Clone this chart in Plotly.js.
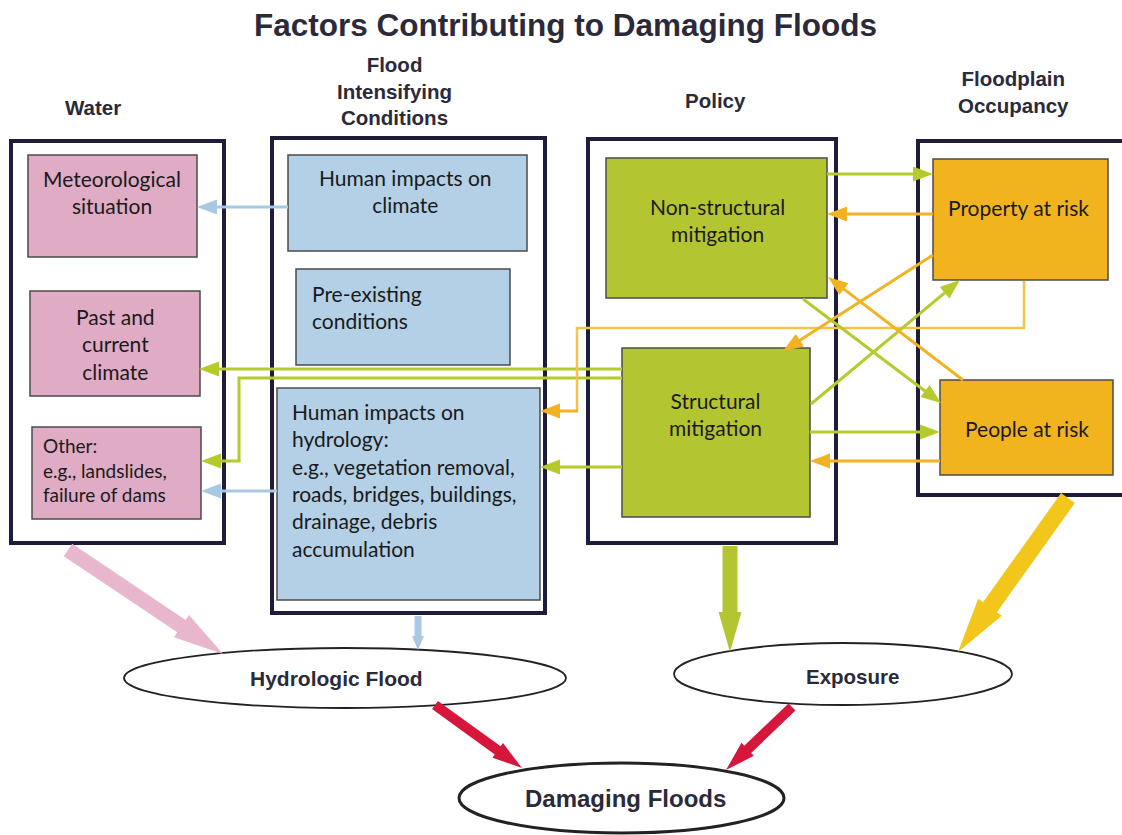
<!DOCTYPE html>
<html>
<head>
<meta charset="utf-8">
<script src="https://cdn.plot.ly/plotly-3.0.1.min.js"></script>
<style>html,body{margin:0;padding:0;background:#fff;}#chart{width:1122px;height:835px;}</style>
</head>
<body>
<div id="chart"></div>
<script>
// ---- Content (text) ----
const chartTitle = "Factors Contributing to Damaging Floods";
const groupHeaders = ["Water", "Flood<br>Intensifying<br>Conditions", "Policy", "Floodplain<br>Occupancy"];
const waterFactors = ["Meteorological<br>situation", "Past and<br>current<br>climate", "Other:<br>e.g., landslides,<br>failure of dams"];
const intensifyingFactors = ["Human impacts on<br>climate", "Pre-existing<br>conditions", "Human impacts on<br>hydrology:<br>e.g., vegetation removal,<br>roads, bridges, buildings,<br>drainage, debris<br>accumulation"];
const policyFactors = ["Non-structural<br>mitigation", "Structural<br>mitigation"];
const occupancyFactors = ["Property at risk", "People at risk"];
const outcomeLabels = ["Hydrologic Flood", "Exposure", "Damaging Floods"];

// ---- Layout geometry (pixel space) ----
const headerPos = [[93,107],[394,91],[715,100],[1013,92]];
const groupFrames = [[11,141,224,543],[272,138,545,613],[588,139,836,543],[918,141,1128,495]];
const waterBoxes = [[28,155,197,257],[30,291,200,396],[32,427,201,519]];
const waterText = [[112,192,'c',21],[115,344,'c',21],[41,470,'l',19]];
const intBoxes = [[288,155,527,251],[296,269,510,365],[277,388,540,600]];
const intText = [[405,191,'c',21],[310,307,'l',21],[290,480,'l',21]];
const polBoxes = [[606,158,827,298],[622,348,810,517]];
const polText = [[717,220,'c',21],[715,414,'c',21]];
const occBoxes = [[933,159,1108,280],[940,380,1113,475]];
const occText = [[1018,207,'c',21],[1027,428,'c',21]];
const ellipses = [[124,648,566,708],[674,643,1012,705],[459,763,784,833]];

const C = {
  frame:'#1d1c3b', pink:'#e0abc5', blue:'#b3d0e6', green:'#b4c532', orange:'#f2b41e',
  blueArrow:'#a8c8e3', greenArrow:'#b7ca2c', orangeArrow:'#f1b224', paleOrange:'#f3c447',
  pinkBig:'#e8b6cd', goldBig:'#f2c61b', red:'#d7163b', text:'#1a1a1a', head:'#2a2a3a'
};

const shapes = [];
const annotations = [];

function rect(b, fill, lc, lw){
  shapes.push({type:'rect', xref:'x', yref:'y', x0:b[0], y0:b[1], x1:b[2], y1:b[3],
    fillcolor:fill, line:{color:lc, width:lw}, layer:'below'});
}
function label(txt, x, y, opts){
  annotations.push(Object.assign({text:txt, x:x, y:y, xref:'x', yref:'y', showarrow:false,
    xanchor:'center', yanchor:'middle', align:'center',
    font:{family:'Lato, "Open Sans", sans-serif', size:21, color:C.text}}, opts||{}));
}
// arrow drawn as one filled polygon: shaft + triangular head
function arrow(tail, tip, color, shaftW, headL, headW){
  const dx = tip[0]-tail[0], dy = tip[1]-tail[1];
  const len = Math.hypot(dx, dy);
  const ux = dx/len, uy = dy/len, nx = -uy, ny = ux;
  const bx = tip[0]-ux*headL, by = tip[1]-uy*headL;
  const s = shaftW/2, h = headW/2;
  const pts = [
    [tail[0]+nx*s, tail[1]+ny*s], [bx+nx*s, by+ny*s], [bx+nx*h, by+ny*h], tip,
    [bx-nx*h, by-ny*h], [bx-nx*s, by-ny*s], [tail[0]-nx*s, tail[1]-ny*s]
  ];
  const d = 'M' + pts.map(p => p[0].toFixed(2)+','+p[1].toFixed(2)).join(' L') + ' Z';
  shapes.push({type:'path', xref:'x', yref:'y', path:d, fillcolor:color, line:{width:0}, layer:'above'});
}
function thin(tail, tip, color){ arrow(tail, tip, color, 3, 20, 15); }
function polyline(pts, color, width){
  const d = 'M' + pts.map(p => p[0] + ',' + p[1]).join(' L');
  shapes.push({type:'path', xref:'x', yref:'y', path:d, line:{color:color, width:width}, layer:'above'});
}

// frames
groupFrames.forEach(b => rect(b, 'rgba(255,255,255,0)', C.frame, 4));
// inner boxes
waterBoxes.forEach(b => rect(b, C.pink, '#4b4b4b', 1.5));
intBoxes.forEach(b => rect(b, C.blue, '#4b4b4b', 1.5));
polBoxes.forEach(b => rect(b, C.green, '#4b4b4b', 1.5));
occBoxes.forEach(b => rect(b, C.orange, '#4b4b4b', 1.5));

// ellipses
ellipses.forEach((e,i) => shapes.push({type:'circle', xref:'x', yref:'y', x0:e[0], y0:e[1], x1:e[2], y1:e[3],
  fillcolor:'#ffffff', line:{color:'#222', width: i===2 ? 3 : 1.8}, layer:'below'}));

// texts inside boxes
function boxTexts(list, pos){
  list.forEach((t,i) => {
    const p = pos[i];
    const left = p[2]==='l';
    label(t, p[0], p[1], {xanchor: left?'left':'center', align: left?'left':'center',
      font:{family:'Lato, "Open Sans", sans-serif', size:p[3], color:C.text}});
  });
}
boxTexts(waterFactors, waterText);
boxTexts(intensifyingFactors, intText);
boxTexts(policyFactors, polText);
boxTexts(occupancyFactors, occText);

// headers
const HF = '"Liberation Sans Narrow", "Arial Narrow", "Liberation Sans", Arial, sans-serif';
groupHeaders.forEach((t,i) => label('<b>'+t+'</b>', headerPos[i][0], headerPos[i][1], {font:{family:HF, size:20.5, color:C.head}}));
label('<b>'+chartTitle+'</b>', 565, 25, {font:{family:HF, size:31.5, color:C.head}});

// outcome labels
label('<b>'+outcomeLabels[0]+'</b>', 336, 678, {font:{family:HF, size:21, color:C.head}});
label('<b>'+outcomeLabels[1]+'</b>', 852, 676, {font:{family:HF, size:20.5, color:C.head}});
label('<b>'+outcomeLabels[2]+'</b>', 625, 798, {font:{family:HF, size:24, color:C.head}});

// thin connector arrows
thin([288,207],[197,207], C.blueArrow);
thin([277,491],[201,491], C.blueArrow);
thin([622,369],[199,369], C.greenArrow);
polyline([[622,378],[239,378],[239,461]], C.greenArrow, 3);
thin([240.5,461],[201,461], C.greenArrow);
polyline([[1024,281],[1024,328],[577,328],[577,411]], C.paleOrange, 2.5);
thin([578,411],[540,411], C.orangeArrow);
thin([622,467],[540,467], C.greenArrow);
thin([827,174],[933,174], C.greenArrow);
thin([933,214],[827,214], C.orangeArrow);
thin([933,255],[783,351], C.orangeArrow);
thin([811,404],[960,280], C.greenArrow);
thin([803,299],[941,403], C.greenArrow);
thin([963,380],[828,277], C.orangeArrow);
thin([810,432],[940,432], C.greenArrow);
thin([940,461],[810,461], C.orangeArrow);

// big arrows into outcomes
arrow([68,550],[223,654], C.pinkBig, 15, 50, 27);
arrow([418,616],[418,650], C.blueArrow, 7, 14, 12);
arrow([730,546],[730,652], C.green, 15, 40, 23);
arrow([1068,498],[958,652], C.goldBig, 17, 55, 29);
arrow([435,705],[522,768], C.red, 10, 30, 18);
arrow([792,707],[726,770], C.red, 10, 30, 18);

const layout = {
  width:1122, height:835, margin:{l:0,r:0,t:0,b:0},
  paper_bgcolor:'#ffffff', plot_bgcolor:'#ffffff', showlegend:false,
  xaxis:{range:[0,1122], visible:false, fixedrange:true},
  yaxis:{range:[835,0], visible:false, fixedrange:true},
  shapes:shapes, annotations:annotations
};
Plotly.newPlot('chart', [], layout, {staticPlot:true, displayModeBar:false});
</script>
</body>
</html>
